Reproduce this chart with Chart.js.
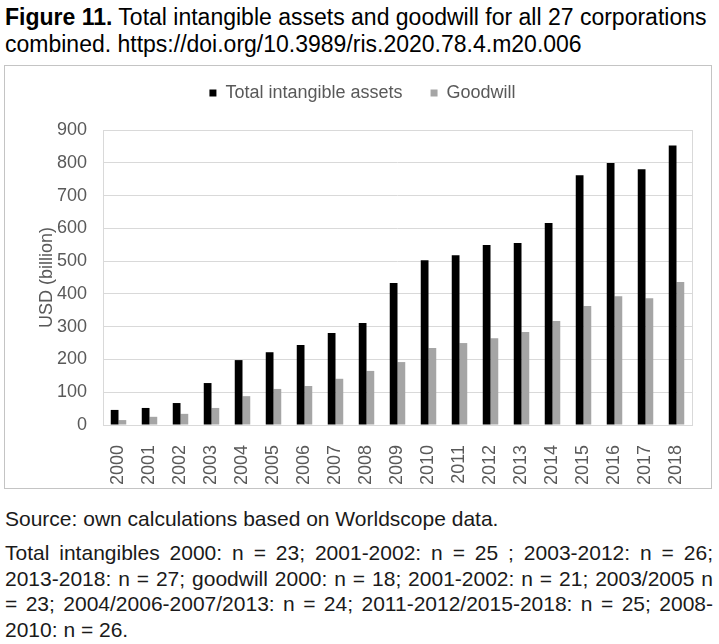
<!DOCTYPE html>
<html>

<head>
    <title>Figure 11</title>
    <meta name="viewport" content="width=device-width, initial-scale=1.0">
    <script src="https://cdn.jsdelivr.net/npm/chart.js"></script>
    <style>
        body {
            margin: 0;
            background: #ffffff;
            font-family: "Liberation Sans", Arial, sans-serif;
        }
        .title {
            position: absolute;
            left: 5px;
            top: 4px;
            width: 712px;
            font-size: 23px;
            line-height: 27px;
            color: #000;
        }
        .chart-box {
            position: absolute;
            left: 4px;
            top: 65px;
            width: 706px;
            height: 422px;
            border: 1px solid #c4c4c4;
        }
        .source {
            position: absolute;
            left: 5px;
            top: 506px;
            font-size: 21px;
            line-height: 25.5px;
            color: #1a1a1a;
        }
        .notes {
            position: absolute;
            left: 5px;
            top: 540px;
            width: 708px;
            font-size: 21px;
            line-height: 25.5px;
            color: #1a1a1a;
        }
        .notes .j {
            text-align: justify;
            text-align-last: justify;
        }
    </style>
</head>

<body>
    <div class="title"><b>Figure 11.</b> Total intangible assets and goodwill for all 27 corporations<br>combined. https://doi.org/10.3989/ris.2020.78.4.m20.006</div>
    <div class="chart-box">
        <canvas id="barChart" width="706" height="422"></canvas>
    </div>
    <div class="source">Source: own calculations based on Worldscope data.</div>
    <div class="notes">
        <div class="j">Total intangibles 2000: n = 23; 2001-2002: n = 25 ; 2003-2012: n = 26;</div>
        <div class="j">2013-2018: n = 27; goodwill 2000: n = 18; 2001-2002: n = 21; 2003/2005 n</div>
        <div class="j">= 23; 2004/2006-2007/2013: n = 24; 2011-2012/2015-2018: n = 25; 2008-</div>
        <div>2010: n = 26.</div>
    </div>
</body>
<script>
    // values (USD billion)
    var years = ["2000", "2001", "2002", "2003", "2004", "2005", "2006", "2007", "2008", "2009",
        "2010", "2011", "2012", "2013", "2014", "2015", "2016", "2017", "2018"];
    var totalIntangibles = [46, 52, 67, 128, 198, 222, 244, 281, 311, 433,
        503, 518, 549, 555, 616, 762, 799, 780, 853];
    var goodwill = [15, 25, 34, 52, 88, 110, 119, 141, 165, 192,
        235, 250, 265, 284, 317, 363, 393, 387, 436];
    var yTicks = [0, 100, 200, 300, 400, 500, 600, 700, 800, 900];

    var axisGrey = "#595959";
    var gridGrey = "#d9d9d9";

    // push the plot area down below the legend
    var legendGap = {
        id: "legendGap",
        beforeInit: function (chart) {
            var fit = chart.legend.fit;
            chart.legend.fit = function () {
                fit.call(this);
                this.height = 74;
            };
        }
    };

    // light frame round the plot area
    var plotFrame = {
        id: "plotFrame",
        afterDatasetsDraw: function (chart) {
            var a = chart.chartArea;
            var ctx = chart.ctx;
            ctx.save();
            ctx.strokeStyle = gridGrey;
            ctx.lineWidth = 1;
            ctx.strokeRect(Math.round(a.left) + 0.5, Math.round(a.top) + 0.5,
                Math.round(a.right - a.left), Math.round(a.bottom - a.top));
            ctx.restore();
        }
    };

    Chart.defaults.font.family = "'Liberation Sans', Arial, sans-serif";
    Chart.defaults.font.size = 18;
    Chart.defaults.color = axisGrey;

    new Chart(document.getElementById("barChart").getContext("2d"), {
        type: "bar",
        data: {
            labels: years,
            datasets: [{
                label: "Total intangible assets",
                data: totalIntangibles,
                backgroundColor: "#000000",
                categoryPercentage: 0.5,
                barPercentage: 1.0
            }, {
                label: "Goodwill",
                data: goodwill,
                backgroundColor: "#a5a5a5",
                categoryPercentage: 0.5,
                barPercentage: 1.0
            }]
        },
        options: {
            responsive: false,
            animation: false,
            layout: {
                padding: { left: 28, right: 19, top: -10, bottom: 0 }
            },
            plugins: {
                legend: {
                    position: "top",
                    labels: {
                        boxWidth: 7,
                        boxHeight: 7,
                        padding: 28,
                        color: axisGrey
                    }
                },
                tooltip: { enabled: false }
            },
            scales: {
                x: {
                    grid: { display: false },
                    border: { display: false },
                    ticks: {
                        autoSkip: false,
                        minRotation: 90,
                        maxRotation: 90,
                        padding: 12,
                        color: axisGrey
                    },
                    afterFit: function (scale) { scale.height = 63; }
                },
                y: {
                    min: 0,
                    max: 900,
                    afterBuildTicks: function (scale) {
                        scale.ticks = yTicks.map(function (v) { return { value: v }; });
                    },
                    grid: { color: gridGrey, drawTicks: false },
                    border: { display: false },
                    ticks: { padding: 16, color: axisGrey },
                    title: {
                        display: true,
                        text: "USD (billion)",
                        color: axisGrey,
                        padding: { top: 3, bottom: 0 }
                    },
                    afterFit: function (scale) { scale.width = 70; }
                }
            }
        },
        plugins: [legendGap, plotFrame]
    });
</script>

</html>
